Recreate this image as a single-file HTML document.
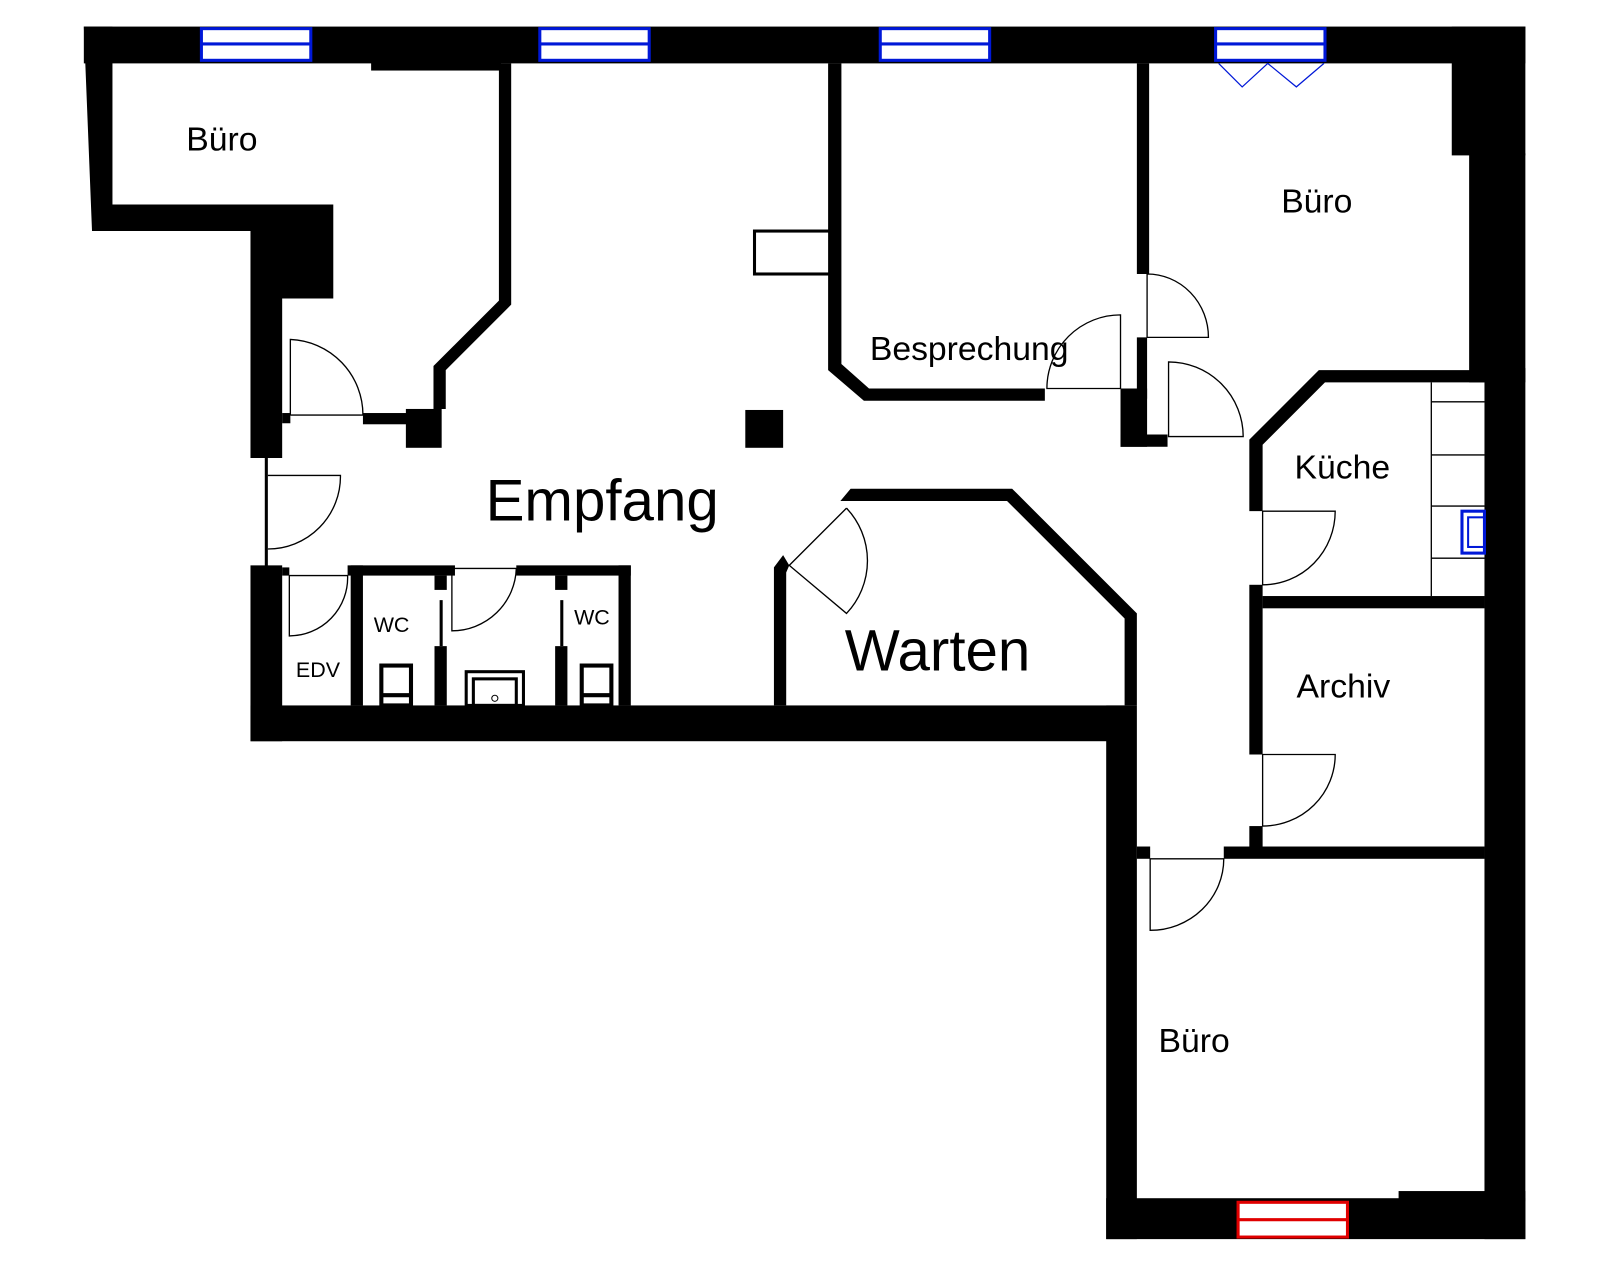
<!DOCTYPE html>
<html><head><meta charset="utf-8"><style>
html,body{margin:0;padding:0;background:#fff;}
svg{display:block;}
text{font-family:"Liberation Sans",Arial,sans-serif;fill:#000;}
</style></head><body>
<svg width="1600" height="1280" viewBox="0 0 1565 1252" preserveAspectRatio="none" xmlns="http://www.w3.org/2000/svg">
<rect x="0" y="0" width="1565" height="1252" fill="#fff"/>
<g fill="#000">
<rect x="82" y="26" width="1410" height="36"/>
<rect x="363" y="60" width="127" height="9"/>
<polygon points="82,26 110,26 110,200 326,200 326,292 276,292 276,448 245,448 245,226 90,226"/>
<polygon points="488,62 500,62 500,298 436,362 436,400 424,400 424,358 488,294"/>
<rect x="397" y="400" width="35" height="38"/>
<rect x="355" y="404" width="45" height="11"/>
<rect x="276" y="404" width="8" height="10"/>
<rect x="259" y="448" width="3" height="107"/>
<rect x="245" y="553" width="31" height="172"/>
<rect x="245" y="690" width="855" height="35"/>
<rect x="1082" y="690" width="30" height="522"/>
<rect x="1082" y="1172" width="410" height="40"/>
<rect x="1368" y="1165" width="124" height="10"/>
<rect x="1420" y="26" width="72" height="126"/>
<rect x="1437" y="150" width="55" height="224"/>
<rect x="1452" y="360" width="40" height="852"/>
<rect x="276" y="555" width="7" height="8"/>
<rect x="340" y="553" width="105" height="10"/>
<rect x="505" y="553" width="112" height="10"/>
<rect x="343" y="553" width="12" height="137"/>
<rect x="425" y="563" width="12" height="14"/>
<rect x="430" y="587" width="3" height="45"/>
<rect x="425" y="632" width="12" height="58"/>
<rect x="543" y="563" width="12" height="14"/>
<rect x="548" y="587" width="3" height="45"/>
<rect x="543" y="632" width="12" height="58"/>
<rect x="605" y="553" width="12" height="137"/>
<rect x="729" y="401" width="37" height="37"/>
<polygon points="810,62 823,62 823,356 850,380 1022,380 1022,392 845,392 810,362"/>
<rect x="1112" y="62" width="12" height="206"/>
<rect x="1112" y="330" width="10" height="60"/>
<rect x="1096" y="380" width="26" height="57"/>
<rect x="1096" y="425" width="46" height="12"/>
<polygon points="1290,362 1452,362 1452,374 1296,374 1235,435 1235,500 1222,500 1222,430"/>
<rect x="1222" y="572" width="13" height="166"/>
<rect x="1235" y="583" width="217" height="12"/>
<rect x="1222" y="808" width="13" height="22"/>
<rect x="1112" y="828" width="13" height="12"/>
<rect x="1197" y="828" width="255" height="12"/>
<polygon points="822,490 832,478 990,478 1112,600 1112,690 1100,690 1100,605 985,490"/>
<polygon points="757,555 766,543 772,553 769,560 769,690 757,690"/>
</g>
<g fill="none" stroke="#000" stroke-width="1.3">
<path d="M284,406 L284,332 A74,74 0 0 1 355,406 L284,406"/>
<path d="M262,465 L333,465 A71,71 0 0 1 262,537"/>
<path d="M283,563 L340,563 A57,57 0 0 1 283,622 Z"/>
<path d="M442,556 L505,556 A63,63 0 0 1 442,617 Z"/>
<path d="M1096,380 L1096,308 A72,72 0 0 0 1024,380 L1096,380"/>
<path d="M1122,268 L1122,330 L1182,330 A60,62 0 0 0 1122,268"/>
<path d="M1143,427 L1143,354 A73,73 0 0 1 1216,427 Z"/>
<path d="M1235,500 L1306,500 A71,72 0 0 1 1235,572 Z"/>
<path d="M1235,738 L1306,738 A71,70 0 0 1 1235,808 Z"/>
<path d="M1125,840 L1197,840 A72,70 0 0 1 1125,910 Z"/>
<path d="M828,497 L772,553 L828,600 A75,75 0 0 0 828,497"/>
<rect x="738" y="226" width="74" height="42" stroke-width="3"/>
<rect x="373" y="651" width="29" height="39" stroke-width="4"/>
<line x1="373" y1="680" x2="402" y2="680" stroke-width="4"/>
<rect x="569" y="651" width="29" height="39" stroke-width="4"/>
<line x1="569" y1="680" x2="598" y2="680" stroke-width="4"/>
<rect x="456" y="657" width="56" height="33" stroke-width="3"/>
<rect x="463" y="664" width="42" height="26" stroke-width="3"/>
<circle cx="484" cy="683" r="3" stroke-width="1"/>
<line x1="1400" y1="374" x2="1400" y2="583"/>
<line x1="1400" y1="393" x2="1452" y2="393"/>
<line x1="1400" y1="445" x2="1452" y2="445"/>
<line x1="1400" y1="495" x2="1452" y2="495"/>
<line x1="1400" y1="546" x2="1452" y2="546"/>
</g>
<g fill="#fff" stroke="#0018d8" stroke-width="3">
<rect x="197" y="28" width="107" height="31"/><line x1="197" y1="43" x2="304" y2="43"/>
<rect x="528" y="28" width="107" height="31"/><line x1="528" y1="43" x2="635" y2="43"/>
<rect x="861" y="28" width="107" height="31"/><line x1="861" y1="43" x2="968" y2="43"/>
<rect x="1189" y="28" width="107" height="31"/><line x1="1189" y1="43" x2="1296" y2="43"/>
<polyline points="1192,62 1215,85 1240,62 1268,85 1295,62" fill="none" stroke-width="1.2"/>
<rect x="1430" y="500" width="22" height="41" fill="none" stroke-width="3"/>
<rect x="1436" y="506" width="16" height="29" fill="none" stroke-width="2"/>
</g>
<g fill="#fff" stroke="#e00000" stroke-width="3">
<rect x="1211" y="1176" width="107" height="34"/><line x1="1211" y1="1193" x2="1318" y2="1193"/>
</g>
<text x="217" y="147" font-size="33" text-anchor="middle">Büro</text>
<text x="589" y="509" font-size="57" text-anchor="middle">Empfang</text>
<text x="948" y="352" font-size="33" text-anchor="middle">Besprechung</text>
<text x="1288" y="208" font-size="33" text-anchor="middle">Büro</text>
<text x="1313" y="468" font-size="33" text-anchor="middle">Küche</text>
<text x="917" y="656" font-size="57" text-anchor="middle">Warten</text>
<text x="1314" y="682" font-size="33" text-anchor="middle">Archiv</text>
<text x="1168" y="1029" font-size="33" text-anchor="middle">Büro</text>
<text x="383" y="618" font-size="21" text-anchor="middle">WC</text>
<text x="579" y="611" font-size="21" text-anchor="middle">WC</text>
<text x="311" y="662" font-size="21" text-anchor="middle">EDV</text>
</svg>
</body></html>
